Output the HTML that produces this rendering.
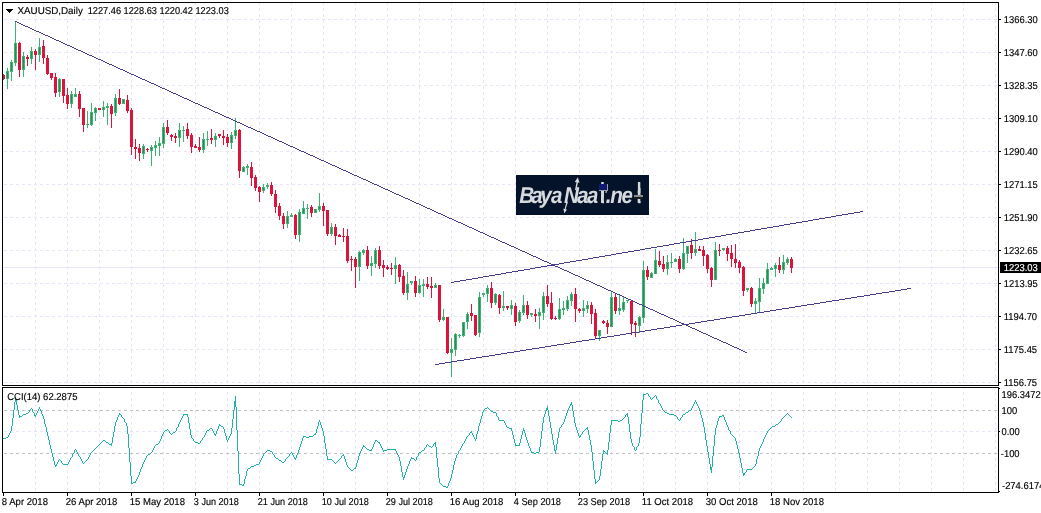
<!DOCTYPE html>
<html lang="en"><head><meta charset="utf-8"><title>XAUUSD Daily</title>
<style>html,body{margin:0;padding:0;background:#fff;overflow:hidden}svg{display:block}text{font-family:"Liberation Sans",sans-serif;font-size:10.0px;fill:#000;stroke:#000;stroke-width:0.15px;text-rendering:geometricPrecision}</style></head><body>
<svg width="1041" height="513" viewBox="0 0 1041 513">
<rect width="1041" height="513" fill="#fff"/>
<g stroke="#e6e6fa" stroke-width="1" stroke-dasharray="3 3" shape-rendering="crispEdges" fill="none">
<line x1="35.5" y1="2" x2="35.5" y2="492"/>
<line x1="67.5" y1="2" x2="67.5" y2="492"/>
<line x1="99.5" y1="2" x2="99.5" y2="492"/>
<line x1="131.5" y1="2" x2="131.5" y2="492"/>
<line x1="163.5" y1="2" x2="163.5" y2="492"/>
<line x1="195.5" y1="2" x2="195.5" y2="492"/>
<line x1="227.5" y1="2" x2="227.5" y2="492"/>
<line x1="259.5" y1="2" x2="259.5" y2="492"/>
<line x1="291.5" y1="2" x2="291.5" y2="492"/>
<line x1="323.5" y1="2" x2="323.5" y2="492"/>
<line x1="355.5" y1="2" x2="355.5" y2="492"/>
<line x1="387.5" y1="2" x2="387.5" y2="492"/>
<line x1="419.5" y1="2" x2="419.5" y2="492"/>
<line x1="451.5" y1="2" x2="451.5" y2="492"/>
<line x1="483.5" y1="2" x2="483.5" y2="492"/>
<line x1="515.5" y1="2" x2="515.5" y2="492"/>
<line x1="547.5" y1="2" x2="547.5" y2="492"/>
<line x1="579.5" y1="2" x2="579.5" y2="492"/>
<line x1="611.5" y1="2" x2="611.5" y2="492"/>
<line x1="643.5" y1="2" x2="643.5" y2="492"/>
<line x1="675.5" y1="2" x2="675.5" y2="492"/>
<line x1="707.5" y1="2" x2="707.5" y2="492"/>
<line x1="739.5" y1="2" x2="739.5" y2="492"/>
<line x1="771.5" y1="2" x2="771.5" y2="492"/>
<line x1="803.5" y1="2" x2="803.5" y2="492"/>
<line x1="835.5" y1="2" x2="835.5" y2="492"/>
<line x1="867.5" y1="2" x2="867.5" y2="492"/>
<line x1="899.5" y1="2" x2="899.5" y2="492"/>
<line x1="931.5" y1="2" x2="931.5" y2="492"/>
<line x1="963.5" y1="2" x2="963.5" y2="492"/>
<line x1="995.5" y1="2" x2="995.5" y2="492"/>
<line x1="4" y1="19.5" x2="998" y2="19.5"/>
<line x1="4" y1="52.5" x2="998" y2="52.5"/>
<line x1="4" y1="85.5" x2="998" y2="85.5"/>
<line x1="4" y1="118.5" x2="998" y2="118.5"/>
<line x1="4" y1="151.5" x2="998" y2="151.5"/>
<line x1="4" y1="184.5" x2="998" y2="184.5"/>
<line x1="4" y1="217.5" x2="998" y2="217.5"/>
<line x1="4" y1="250.5" x2="998" y2="250.5"/>
<line x1="4" y1="283.5" x2="998" y2="283.5"/>
<line x1="4" y1="316.5" x2="998" y2="316.5"/>
<line x1="4" y1="349.5" x2="998" y2="349.5"/>
<line x1="4" y1="382.5" x2="998" y2="382.5"/>
<line x1="4" y1="431.5" x2="998" y2="431.5"/>
</g>
<g shape-rendering="crispEdges">
<rect x="0" y="386" width="1041" height="1" fill="#fff"/>
<rect x="3" y="267" width="997" height="1" fill="#e6e6fa"/>
<g stroke="#c0c0c0" stroke-width="1" stroke-dasharray="3 3">
<line x1="4" y1="410.5" x2="998" y2="410.5"/><line x1="4" y1="453.5" x2="998" y2="453.5"/></g>
<path fill="#3cb371" d="M7 68h1v21h-1zM6 71h3v8h-3zM11 60h1v21h-1zM10 62h3v10h-3zM15 21h1v45h-1zM14 43h3v20h-3zM23 52h1v25h-1zM22 56h3v14h-3zM31 47h1v17h-1zM30 51h3v8h-3zM39 38h1v24h-1zM38 47h3v8h-3zM59 78h1v19h-1zM58 79h3v13h-3zM71 91h1v17h-1zM70 94h3v10h-3zM75 88h1v9h-1zM74 94h3v3h-3zM87 111h1v17h-1zM86 124h3v1h-3zM91 103h1v23h-1zM90 112h3v13h-3zM95 107h1v14h-1zM94 108h3v5h-3zM103 101h1v16h-1zM102 107h3v3h-3zM107 103h1v22h-1zM106 106h3v2h-3zM115 94h1v22h-1zM114 98h3v15h-3zM123 99h1v5h-1zM122 99h3v5h-3zM143 144h1v15h-1zM142 146h3v8h-3zM151 145h1v21h-1zM150 147h3v4h-3zM155 141h1v15h-1zM154 145h3v3h-3zM159 137h1v19h-1zM158 143h3v3h-3zM163 123h1v25h-1zM162 127h3v17h-3zM179 123h1v24h-1zM178 130h3v8h-3zM183 126h1v16h-1zM182 130h3v1h-3zM203 133h1v20h-1zM202 139h3v11h-3zM207 131h1v15h-1zM206 139h3v1h-3zM215 133h1v14h-1zM214 136h3v4h-3zM231 132h1v17h-1zM230 135h3v8h-3zM235 118h1v21h-1zM234 130h3v6h-3zM243 166h1v6h-1zM242 167h3v5h-3zM247 164h1v11h-1zM246 166h3v2h-3zM263 184h1v9h-1zM262 187h3v4h-3zM267 183h1v6h-1zM266 185h3v2h-3zM287 211h1v17h-1zM286 216h3v8h-3zM291 213h1v4h-1zM290 215h3v2h-3zM299 209h1v33h-1zM298 212h3v23h-3zM303 201h1v13h-1zM302 208h3v6h-3zM307 204h1v15h-1zM306 208h3v1h-3zM315 209h1v4h-1zM314 209h3v4h-3zM319 193h1v19h-1zM318 206h3v4h-3zM331 223h1v13h-1zM330 227h3v7h-3zM359 251h1v30h-1zM358 252h3v15h-3zM363 249h1v6h-1zM362 250h3v3h-3zM371 256h1v20h-1zM370 263h3v3h-3zM375 248h1v20h-1zM374 250h3v14h-3zM395 257h1v27h-1zM394 265h3v4h-3zM407 272h1v28h-1zM406 284h3v9h-3zM411 281h1v4h-1zM410 281h3v2h-3zM419 279h1v15h-1zM418 285h3v8h-3zM423 279h1v18h-1zM422 284h3v2h-3zM435 283h1v5h-1zM434 285h3v3h-3zM443 309h1v12h-1zM442 317h3v3h-3zM451 338h1v39h-1zM450 349h3v4h-3zM455 333h1v23h-1zM454 334h3v16h-3zM459 334h1v4h-1zM458 335h3v1h-3zM463 322h1v15h-1zM462 322h3v14h-3zM467 312h1v17h-1zM466 314h3v8h-3zM479 292h1v45h-1zM478 297h3v36h-3zM483 293h1v4h-1zM482 293h3v2h-3zM487 285h1v17h-1zM486 288h3v6h-3zM495 293h1v12h-1zM494 294h3v9h-3zM503 291h1v20h-1zM502 306h3v2h-3zM511 300h1v15h-1zM510 305h3v4h-3zM519 310h1v13h-1zM518 312h3v9h-3zM523 295h1v20h-1zM522 305h3v8h-3zM531 313h1v4h-1zM530 313h3v2h-3zM539 308h1v21h-1zM538 312h3v4h-3zM543 292h1v28h-1zM542 296h3v17h-3zM559 298h1v22h-1zM558 309h3v10h-3zM563 301h1v14h-1zM562 308h3v2h-3zM567 296h1v15h-1zM566 300h3v9h-3zM571 292h1v14h-1zM570 294h3v7h-3zM583 300h1v17h-1zM582 308h3v3h-3zM587 301h1v12h-1zM586 305h3v4h-3zM599 330h1v11h-1zM598 330h3v6h-3zM611 292h1v35h-1zM610 297h3v30h-3zM619 295h1v20h-1zM618 308h3v3h-3zM623 296h1v16h-1zM622 302h3v8h-3zM627 300h1v3h-1zM626 300h3v1h-3zM639 316h1v17h-1zM638 317h3v9h-3zM643 261h1v62h-1zM642 270h3v48h-3zM651 272h1v6h-1zM650 273h3v5h-3zM655 249h1v25h-1zM654 260h3v14h-3zM667 255h1v20h-1zM666 262h3v7h-3zM671 253h1v15h-1zM670 262h3v1h-3zM675 258h1v4h-1zM674 259h3v3h-3zM683 238h1v32h-1zM682 253h3v16h-3zM687 246h1v17h-1zM686 246h3v8h-3zM695 232h1v24h-1zM694 249h3v4h-3zM715 242h1v38h-1zM714 250h3v30h-3zM723 248h1v3h-1zM722 248h3v2h-3zM747 288h1v4h-1zM746 288h3v2h-3zM755 298h1v15h-1zM754 301h3v3h-3zM759 278h1v34h-1zM758 288h3v14h-3zM763 278h1v16h-1zM762 283h3v6h-3zM767 263h1v21h-1zM766 269h3v15h-3zM771 267h1v3h-1zM770 268h3v2h-3zM775 263h1v14h-1zM774 265h3v4h-3zM783 255h1v19h-1zM782 262h3v8h-3zM787 257h1v8h-1zM786 259h3v4h-3z"/>
<path fill="#2e8b57" d="M7 72h1v6h-1zM11 63h1v8h-1zM15 44h1v18h-1zM23 57h1v12h-1zM31 52h1v6h-1zM39 48h1v6h-1zM59 80h1v11h-1zM71 95h1v8h-1zM75 95h1v1h-1zM91 113h1v11h-1zM95 109h1v3h-1zM103 108h1v1h-1zM115 99h1v13h-1zM123 100h1v3h-1zM143 147h1v6h-1zM151 148h1v2h-1zM155 146h1v1h-1zM159 144h1v1h-1zM163 128h1v15h-1zM179 131h1v6h-1zM203 140h1v9h-1zM215 137h1v2h-1zM231 136h1v6h-1zM235 131h1v4h-1zM243 168h1v3h-1zM263 188h1v2h-1zM287 217h1v6h-1zM299 213h1v21h-1zM303 209h1v4h-1zM315 210h1v2h-1zM319 207h1v2h-1zM331 228h1v5h-1zM359 253h1v13h-1zM363 251h1v1h-1zM371 264h1v1h-1zM375 251h1v12h-1zM395 266h1v2h-1zM407 285h1v7h-1zM419 286h1v6h-1zM435 286h1v1h-1zM443 318h1v1h-1zM451 350h1v2h-1zM455 335h1v14h-1zM463 323h1v12h-1zM467 315h1v6h-1zM479 298h1v34h-1zM487 289h1v4h-1zM495 295h1v7h-1zM511 306h1v2h-1zM519 313h1v7h-1zM523 306h1v6h-1zM539 313h1v2h-1zM543 297h1v15h-1zM559 310h1v8h-1zM567 301h1v7h-1zM571 295h1v5h-1zM583 309h1v1h-1zM587 306h1v2h-1zM599 331h1v4h-1zM611 298h1v28h-1zM619 309h1v1h-1zM623 303h1v6h-1zM639 318h1v7h-1zM643 271h1v46h-1zM651 274h1v3h-1zM655 261h1v12h-1zM667 263h1v5h-1zM675 260h1v1h-1zM683 254h1v14h-1zM687 247h1v6h-1zM695 250h1v2h-1zM715 251h1v28h-1zM755 302h1v1h-1zM759 289h1v12h-1zM763 284h1v4h-1zM767 270h1v13h-1zM775 266h1v2h-1zM783 263h1v6h-1zM787 260h1v2h-1z"/>
<path fill="#dc143c" d="M3 74h1v6h-1zM2 75h3v4h-3zM19 42h1v35h-1zM18 43h3v27h-3zM27 55h1v11h-1zM26 57h3v2h-3zM35 49h1v21h-1zM34 51h3v4h-3zM43 40h1v24h-1zM42 46h3v12h-3zM47 55h1v20h-1zM46 58h3v16h-3zM51 73h1v7h-1zM50 73h3v5h-3zM55 73h1v24h-1zM54 77h3v16h-3zM63 79h1v24h-1zM62 79h3v17h-3zM67 88h1v21h-1zM66 95h3v9h-3zM79 91h1v26h-1zM78 94h3v15h-3zM83 108h1v24h-1zM82 108h3v17h-3zM99 108h1v2h-1zM98 108h3v2h-3zM111 104h1v24h-1zM110 106h3v8h-3zM119 89h1v16h-1zM118 98h3v6h-3zM127 95h1v18h-1zM126 100h3v11h-3zM131 108h1v47h-1zM130 110h3v37h-3zM135 139h1v20h-1zM134 147h3v2h-3zM139 144h1v17h-1zM138 148h3v5h-3zM147 148h1v4h-1zM146 149h3v1h-3zM167 120h1v15h-1zM166 127h3v6h-3zM171 134h1v7h-1zM170 135h3v2h-3zM175 133h1v10h-1zM174 136h3v2h-3zM187 123h1v16h-1zM186 129h3v7h-3zM191 133h1v20h-1zM190 135h3v12h-3zM195 144h1v4h-1zM194 146h3v2h-3zM199 137h1v15h-1zM198 147h3v3h-3zM211 129h1v15h-1zM210 138h3v2h-3zM219 134h1v4h-1zM218 134h3v2h-3zM223 130h1v15h-1zM222 136h3v2h-3zM227 134h1v13h-1zM226 137h3v6h-3zM239 129h1v49h-1zM238 130h3v41h-3zM251 162h1v24h-1zM250 167h3v11h-3zM255 175h1v16h-1zM254 177h3v11h-3zM259 186h1v16h-1zM258 187h3v5h-3zM271 182h1v14h-1zM270 185h3v9h-3zM275 190h1v23h-1zM274 194h3v13h-3zM279 203h1v17h-1zM278 206h3v10h-3zM283 213h1v16h-1zM282 216h3v8h-3zM295 214h1v25h-1zM294 215h3v20h-3zM311 205h1v12h-1zM310 207h3v6h-3zM323 203h1v23h-1zM322 206h3v5h-3zM327 210h1v26h-1zM326 210h3v24h-3zM335 224h1v21h-1zM334 227h3v9h-3zM339 234h1v3h-1zM338 235h3v2h-3zM343 228h1v14h-1zM342 236h3v1h-3zM347 229h1v34h-1zM346 236h3v25h-3zM351 256h1v15h-1zM350 259h3v1h-3zM355 257h1v31h-1zM354 259h3v8h-3zM367 246h1v23h-1zM366 250h3v16h-3zM379 246h1v23h-1zM378 250h3v16h-3zM383 260h1v17h-1zM382 265h3v3h-3zM387 265h1v5h-1zM386 267h3v2h-3zM391 263h1v12h-1zM390 268h3v1h-3zM399 264h1v18h-1zM398 265h3v12h-3zM403 270h1v25h-1zM402 276h3v17h-3zM415 276h1v21h-1zM414 281h3v12h-3zM427 277h1v12h-1zM426 284h3v3h-3zM431 277h1v21h-1zM430 286h3v2h-3zM439 285h1v37h-1zM438 285h3v35h-3zM447 317h1v37h-1zM446 317h3v36h-3zM471 304h1v17h-1zM470 313h3v3h-3zM475 315h1v21h-1zM474 315h3v20h-3zM491 282h1v26h-1zM490 288h3v15h-3zM499 294h1v20h-1zM498 295h3v13h-3zM507 306h1v4h-1zM506 306h3v2h-3zM515 303h1v23h-1zM514 306h3v16h-3zM527 301h1v18h-1zM526 305h3v10h-3zM535 309h1v13h-1zM534 314h3v2h-3zM547 285h1v22h-1zM546 296h3v8h-3zM551 292h1v28h-1zM550 303h3v16h-3zM555 316h1v4h-1zM554 318h3v1h-3zM575 288h1v34h-1zM574 294h3v15h-3zM579 308h1v5h-1zM578 309h3v2h-3zM591 302h1v22h-1zM590 305h3v9h-3zM595 309h1v29h-1zM594 313h3v23h-3zM603 320h1v4h-1zM602 321h3v2h-3zM607 320h1v14h-1zM606 323h3v4h-3zM615 293h1v21h-1zM614 297h3v14h-3zM631 301h1v34h-1zM630 301h3v23h-3zM635 321h1v16h-1zM634 323h3v2h-3zM647 266h1v14h-1zM646 270h3v7h-3zM659 251h1v16h-1zM658 261h3v4h-3zM663 256h1v16h-1zM662 264h3v5h-3zM679 256h1v17h-1zM678 259h3v10h-3zM691 239h1v20h-1zM690 245h3v8h-3zM699 246h1v5h-1zM698 249h3v2h-3zM703 246h1v20h-1zM702 250h3v6h-3zM707 254h1v19h-1zM706 255h3v14h-3zM711 267h1v20h-1zM710 268h3v12h-3zM719 244h1v12h-1zM718 250h3v1h-3zM727 246h1v15h-1zM726 248h3v6h-3zM731 245h1v22h-1zM730 253h3v6h-3zM735 244h1v24h-1zM734 259h3v4h-3zM739 260h1v13h-1zM738 262h3v6h-3zM743 266h1v30h-1zM742 267h3v24h-3zM751 287h1v20h-1zM750 288h3v16h-3zM779 257h1v16h-1zM778 265h3v5h-3zM791 257h1v16h-1zM790 259h3v9h-3z"/>
<path fill="#dc143c" d="M3 76h1v2h-1zM19 44h1v25h-1zM35 52h1v2h-1zM43 47h1v10h-1zM47 59h1v14h-1zM51 74h1v3h-1zM55 78h1v14h-1zM63 80h1v15h-1zM67 96h1v7h-1zM79 95h1v13h-1zM83 109h1v15h-1zM111 107h1v6h-1zM119 99h1v4h-1zM127 101h1v9h-1zM131 111h1v35h-1zM139 149h1v3h-1zM167 128h1v4h-1zM187 130h1v5h-1zM191 136h1v10h-1zM199 148h1v1h-1zM227 138h1v4h-1zM239 131h1v39h-1zM251 168h1v9h-1zM255 178h1v9h-1zM259 188h1v3h-1zM271 186h1v7h-1zM275 195h1v11h-1zM279 207h1v8h-1zM283 217h1v6h-1zM295 216h1v18h-1zM311 208h1v4h-1zM323 207h1v3h-1zM327 211h1v22h-1zM335 228h1v7h-1zM347 237h1v23h-1zM355 260h1v6h-1zM367 251h1v14h-1zM379 251h1v14h-1zM383 266h1v1h-1zM399 266h1v10h-1zM403 277h1v15h-1zM415 282h1v10h-1zM427 285h1v1h-1zM439 286h1v33h-1zM447 318h1v34h-1zM471 314h1v1h-1zM475 316h1v18h-1zM491 289h1v13h-1zM499 296h1v11h-1zM515 307h1v14h-1zM527 306h1v8h-1zM547 297h1v6h-1zM551 304h1v14h-1zM575 295h1v13h-1zM591 306h1v7h-1zM595 314h1v21h-1zM607 324h1v2h-1zM615 298h1v12h-1zM631 302h1v21h-1zM647 271h1v5h-1zM659 262h1v2h-1zM663 265h1v3h-1zM679 260h1v8h-1zM691 246h1v6h-1zM703 251h1v4h-1zM707 256h1v12h-1zM711 269h1v10h-1zM727 249h1v4h-1zM731 254h1v4h-1zM735 260h1v2h-1zM739 263h1v4h-1zM743 268h1v22h-1zM751 289h1v14h-1zM779 266h1v3h-1zM791 260h1v7h-1z"/>
<path fill="#483d8b" d="M15 21h2v1h-2zM17 22h2v1h-2zM19 23h2v1h-2zM21 24h2v1h-2zM23 25h2v1h-2zM25 26h3v1h-3zM28 27h2v1h-2zM30 28h2v1h-2zM32 29h2v1h-2zM34 30h2v1h-2zM36 31h3v1h-3zM39 32h2v1h-2zM41 33h2v1h-2zM43 34h2v1h-2zM45 35h3v1h-3zM48 36h2v1h-2zM50 37h2v1h-2zM52 38h2v1h-2zM54 39h2v1h-2zM56 40h3v1h-3zM59 41h2v1h-2zM61 42h2v1h-2zM63 43h2v1h-2zM65 44h2v1h-2zM67 45h3v1h-3zM70 46h2v1h-2zM72 47h2v1h-2zM74 48h2v1h-2zM76 49h2v1h-2zM78 50h3v1h-3zM81 51h2v1h-2zM83 52h2v1h-2zM85 53h2v1h-2zM87 54h2v1h-2zM89 55h3v1h-3zM92 56h2v1h-2zM94 57h2v1h-2zM96 58h2v1h-2zM98 59h3v1h-3zM101 60h2v1h-2zM103 61h2v1h-2zM105 62h2v1h-2zM107 63h2v1h-2zM109 64h3v1h-3zM112 65h2v1h-2zM114 66h2v1h-2zM116 67h2v1h-2zM118 68h2v1h-2zM120 69h3v1h-3zM123 70h2v1h-2zM125 71h2v1h-2zM127 72h2v1h-2zM129 73h2v1h-2zM131 74h3v1h-3zM134 75h2v1h-2zM136 76h2v1h-2zM138 77h2v1h-2zM140 78h2v1h-2zM142 79h3v1h-3zM145 80h2v1h-2zM147 81h2v1h-2zM149 82h2v1h-2zM151 83h3v1h-3zM154 84h2v1h-2zM156 85h2v1h-2zM158 86h2v1h-2zM160 87h2v1h-2zM162 88h3v1h-3zM165 89h2v1h-2zM167 90h2v1h-2zM169 91h2v1h-2zM171 92h2v1h-2zM173 93h3v1h-3zM176 94h2v1h-2zM178 95h2v1h-2zM180 96h2v1h-2zM182 97h2v1h-2zM184 98h3v1h-3zM187 99h2v1h-2zM189 100h2v1h-2zM191 101h2v1h-2zM193 102h2v1h-2zM195 103h3v1h-3zM198 104h2v1h-2zM200 105h2v1h-2zM202 106h2v1h-2zM204 107h3v1h-3zM207 108h2v1h-2zM209 109h2v1h-2zM211 110h2v1h-2zM213 111h2v1h-2zM215 112h3v1h-3zM218 113h2v1h-2zM220 114h2v1h-2zM222 115h2v1h-2zM224 116h2v1h-2zM226 117h3v1h-3zM229 118h2v1h-2zM231 119h2v1h-2zM233 120h2v1h-2zM235 121h2v1h-2zM237 122h3v1h-3zM240 123h2v1h-2zM242 124h2v1h-2zM244 125h2v1h-2zM246 126h2v1h-2zM248 127h3v1h-3zM251 128h2v1h-2zM253 129h2v1h-2zM255 130h2v1h-2zM257 131h3v1h-3zM260 132h2v1h-2zM262 133h2v1h-2zM264 134h2v1h-2zM266 135h2v1h-2zM268 136h3v1h-3zM271 137h2v1h-2zM273 138h2v1h-2zM275 139h2v1h-2zM277 140h2v1h-2zM279 141h3v1h-3zM282 142h2v1h-2zM284 143h2v1h-2zM286 144h2v1h-2zM288 145h2v1h-2zM290 146h3v1h-3zM293 147h2v1h-2zM295 148h2v1h-2zM297 149h2v1h-2zM299 150h2v1h-2zM301 151h3v1h-3zM304 152h2v1h-2zM306 153h2v1h-2zM308 154h2v1h-2zM310 155h3v1h-3zM313 156h2v1h-2zM315 157h2v1h-2zM317 158h2v1h-2zM319 159h2v1h-2zM321 160h3v1h-3zM324 161h2v1h-2zM326 162h2v1h-2zM328 163h2v1h-2zM330 164h2v1h-2zM332 165h3v1h-3zM335 166h2v1h-2zM337 167h2v1h-2zM339 168h2v1h-2zM341 169h2v1h-2zM343 170h3v1h-3zM346 171h2v1h-2zM348 172h2v1h-2zM350 173h2v1h-2zM352 174h2v1h-2zM354 175h3v1h-3zM357 176h2v1h-2zM359 177h2v1h-2zM361 178h2v1h-2zM363 179h3v1h-3zM366 180h2v1h-2zM368 181h2v1h-2zM370 182h2v1h-2zM372 183h2v1h-2zM374 184h3v1h-3zM377 185h2v1h-2zM379 186h2v1h-2zM381 187h2v1h-2zM383 188h2v1h-2zM385 189h3v1h-3zM388 190h2v1h-2zM390 191h2v1h-2zM392 192h2v1h-2zM394 193h2v1h-2zM396 194h3v1h-3zM399 195h2v1h-2zM401 196h2v1h-2zM403 197h2v1h-2zM405 198h3v1h-3zM408 199h2v1h-2zM410 200h2v1h-2zM412 201h2v1h-2zM414 202h2v1h-2zM416 203h3v1h-3zM419 204h2v1h-2zM421 205h2v1h-2zM423 206h2v1h-2zM425 207h2v1h-2zM427 208h3v1h-3zM430 209h2v1h-2zM432 210h2v1h-2zM434 211h2v1h-2zM860 211h3v1h-3zM436 212h2v1h-2zM854 212h6v1h-6zM438 213h3v1h-3zM848 213h6v1h-6zM441 214h2v1h-2zM842 214h6v1h-6zM443 215h2v1h-2zM836 215h6v1h-6zM445 216h2v1h-2zM831 216h5v1h-5zM447 217h2v1h-2zM825 217h6v1h-6zM449 218h3v1h-3zM819 218h6v1h-6zM452 219h2v1h-2zM813 219h6v1h-6zM454 220h2v1h-2zM808 220h5v1h-5zM456 221h2v1h-2zM802 221h6v1h-6zM458 222h3v1h-3zM796 222h6v1h-6zM461 223h2v1h-2zM790 223h6v1h-6zM463 224h2v1h-2zM784 224h6v1h-6zM465 225h2v1h-2zM779 225h5v1h-5zM467 226h2v1h-2zM773 226h6v1h-6zM469 227h3v1h-3zM767 227h6v1h-6zM472 228h2v1h-2zM761 228h6v1h-6zM474 229h2v1h-2zM755 229h6v1h-6zM476 230h2v1h-2zM750 230h5v1h-5zM478 231h2v1h-2zM744 231h6v1h-6zM480 232h3v1h-3zM738 232h6v1h-6zM483 233h2v1h-2zM732 233h6v1h-6zM485 234h2v1h-2zM726 234h6v1h-6zM487 235h2v1h-2zM721 235h5v1h-5zM489 236h2v1h-2zM715 236h6v1h-6zM491 237h3v1h-3zM709 237h6v1h-6zM494 238h2v1h-2zM703 238h6v1h-6zM496 239h2v1h-2zM698 239h5v1h-5zM498 240h2v1h-2zM692 240h6v1h-6zM500 241h2v1h-2zM686 241h6v1h-6zM502 242h3v1h-3zM680 242h6v1h-6zM505 243h2v1h-2zM674 243h6v1h-6zM507 244h2v1h-2zM669 244h5v1h-5zM509 245h2v1h-2zM663 245h6v1h-6zM511 246h3v1h-3zM657 246h6v1h-6zM514 247h2v1h-2zM651 247h6v1h-6zM516 248h2v1h-2zM645 248h6v1h-6zM518 249h2v1h-2zM640 249h5v1h-5zM520 250h2v1h-2zM634 250h6v1h-6zM522 251h3v1h-3zM628 251h6v1h-6zM525 252h2v1h-2zM622 252h6v1h-6zM527 253h2v1h-2zM616 253h6v1h-6zM529 254h2v1h-2zM611 254h5v1h-5zM531 255h2v1h-2zM605 255h6v1h-6zM533 256h3v1h-3zM599 256h6v1h-6zM536 257h2v1h-2zM593 257h6v1h-6zM538 258h2v1h-2zM588 258h5v1h-5zM540 259h2v1h-2zM582 259h6v1h-6zM542 260h2v1h-2zM576 260h6v1h-6zM544 261h3v1h-3zM570 261h6v1h-6zM547 262h2v1h-2zM564 262h6v1h-6zM549 263h2v1h-2zM559 263h5v1h-5zM551 264h8v1h-8zM547 265h8v1h-8zM541 266h6v1h-6zM555 266h3v1h-3zM535 267h6v1h-6zM558 267h2v1h-2zM530 268h5v1h-5zM560 268h2v1h-2zM524 269h6v1h-6zM562 269h2v1h-2zM518 270h6v1h-6zM564 270h3v1h-3zM512 271h6v1h-6zM567 271h2v1h-2zM506 272h6v1h-6zM569 272h2v1h-2zM501 273h5v1h-5zM571 273h2v1h-2zM495 274h6v1h-6zM573 274h2v1h-2zM489 275h6v1h-6zM575 275h3v1h-3zM483 276h6v1h-6zM578 276h2v1h-2zM478 277h5v1h-5zM580 277h2v1h-2zM472 278h6v1h-6zM582 278h2v1h-2zM466 279h6v1h-6zM584 279h2v1h-2zM460 280h6v1h-6zM586 280h3v1h-3zM454 281h6v1h-6zM589 281h2v1h-2zM451 282h3v1h-3zM591 282h2v1h-2zM593 283h2v1h-2zM595 284h2v1h-2zM597 285h3v1h-3zM600 286h2v1h-2zM602 287h2v1h-2zM604 288h2v1h-2zM907 288h4v1h-4zM606 289h2v1h-2zM901 289h6v1h-6zM608 290h3v1h-3zM895 290h6v1h-6zM611 291h2v1h-2zM889 291h6v1h-6zM613 292h2v1h-2zM882 292h7v1h-7zM615 293h2v1h-2zM876 293h6v1h-6zM617 294h3v1h-3zM870 294h6v1h-6zM620 295h2v1h-2zM864 295h6v1h-6zM622 296h2v1h-2zM857 296h7v1h-7zM624 297h2v1h-2zM851 297h6v1h-6zM626 298h2v1h-2zM845 298h6v1h-6zM628 299h3v1h-3zM839 299h6v1h-6zM631 300h2v1h-2zM832 300h7v1h-7zM633 301h2v1h-2zM826 301h6v1h-6zM635 302h2v1h-2zM820 302h6v1h-6zM637 303h2v1h-2zM814 303h6v1h-6zM639 304h3v1h-3zM807 304h7v1h-7zM642 305h2v1h-2zM801 305h6v1h-6zM644 306h2v1h-2zM795 306h6v1h-6zM646 307h2v1h-2zM789 307h6v1h-6zM648 308h2v1h-2zM782 308h7v1h-7zM650 309h3v1h-3zM776 309h6v1h-6zM653 310h2v1h-2zM770 310h6v1h-6zM655 311h2v1h-2zM764 311h6v1h-6zM657 312h2v1h-2zM757 312h7v1h-7zM659 313h2v1h-2zM751 313h6v1h-6zM661 314h3v1h-3zM745 314h6v1h-6zM664 315h2v1h-2zM739 315h6v1h-6zM666 316h2v1h-2zM732 316h7v1h-7zM668 317h2v1h-2zM726 317h6v1h-6zM670 318h3v1h-3zM720 318h6v1h-6zM673 319h2v1h-2zM714 319h6v1h-6zM675 320h2v1h-2zM707 320h7v1h-7zM677 321h2v1h-2zM701 321h6v1h-6zM679 322h2v1h-2zM695 322h6v1h-6zM681 323h3v1h-3zM689 323h6v1h-6zM682 324h7v1h-7zM676 325h6v1h-6zM686 325h2v1h-2zM670 326h6v1h-6zM688 326h2v1h-2zM664 327h6v1h-6zM690 327h2v1h-2zM657 328h7v1h-7zM692 328h3v1h-3zM651 329h6v1h-6zM695 329h2v1h-2zM645 330h6v1h-6zM697 330h2v1h-2zM639 331h6v1h-6zM699 331h2v1h-2zM632 332h7v1h-7zM701 332h2v1h-2zM626 333h6v1h-6zM703 333h3v1h-3zM620 334h6v1h-6zM706 334h2v1h-2zM614 335h6v1h-6zM708 335h2v1h-2zM607 336h7v1h-7zM710 336h2v1h-2zM601 337h6v1h-6zM712 337h2v1h-2zM595 338h6v1h-6zM714 338h3v1h-3zM589 339h6v1h-6zM717 339h2v1h-2zM582 340h7v1h-7zM719 340h2v1h-2zM576 341h6v1h-6zM721 341h2v1h-2zM570 342h6v1h-6zM723 342h3v1h-3zM564 343h6v1h-6zM726 343h2v1h-2zM557 344h7v1h-7zM728 344h2v1h-2zM551 345h6v1h-6zM730 345h2v1h-2zM545 346h6v1h-6zM732 346h2v1h-2zM539 347h6v1h-6zM734 347h3v1h-3zM532 348h7v1h-7zM737 348h2v1h-2zM526 349h6v1h-6zM739 349h2v1h-2zM520 350h6v1h-6zM741 350h2v1h-2zM514 351h6v1h-6zM743 351h2v1h-2zM507 352h7v1h-7zM745 352h2v1h-2zM501 353h6v1h-6zM495 354h6v1h-6zM489 355h6v1h-6zM482 356h7v1h-7zM476 357h6v1h-6zM470 358h6v1h-6zM464 359h6v1h-6zM457 360h7v1h-7zM451 361h6v1h-6zM445 362h6v1h-6zM439 363h6v1h-6zM435 364h4v1h-4z"/>
<path fill="#20b2aa" d="M646 393h2v1h-2zM643 394h3v1h-3zM648 394h1v2h-1zM643 395h1v5h-1zM655 395h1v1h-1zM235 396h1v11h-1zM649 396h1v1h-1zM654 396h1v1h-1zM656 396h1v3h-1zM15 397h1v5h-1zM650 397h1v2h-1zM653 397h1v1h-1zM652 398h1v1h-1zM651 399h1v1h-1zM657 399h1v1h-1zM16 400h1v5h-1zM642 400h1v13h-1zM658 400h1v3h-1zM695 400h1v2h-1zM234 401h1v9h-1zM14 402h1v8h-1zM571 402h1v3h-1zM694 402h1v2h-1zM696 402h1v2h-1zM659 403h1v1h-1zM570 404h1v2h-1zM660 404h1v2h-1zM693 404h1v2h-1zM697 404h1v2h-1zM17 405h1v5h-1zM572 405h1v6h-1zM547 406h1v4h-1zM569 406h1v2h-1zM661 406h1v2h-1zM692 406h1v2h-1zM698 406h1v2h-1zM39 407h1v2h-1zM236 407h1v23h-1zM487 407h1v1h-1zM31 408h1v1h-1zM485 408h2v1h-2zM488 408h1v1h-1zM546 408h1v3h-1zM568 408h1v2h-1zM662 408h1v2h-1zM691 408h1v2h-1zM699 408h1v3h-1zM30 409h1v1h-1zM32 409h1v3h-1zM38 409h1v2h-1zM40 409h1v2h-1zM484 409h1v1h-1zM489 409h1v1h-1zM13 410h1v8h-1zM18 410h1v5h-1zM29 410h1v2h-1zM233 410h1v9h-1zM483 410h1v2h-1zM490 410h1v1h-1zM548 410h1v6h-1zM567 410h1v3h-1zM663 410h1v1h-1zM689 410h2v1h-2zM37 411h1v2h-1zM41 411h1v3h-1zM491 411h2v1h-2zM545 411h1v3h-1zM573 411h1v6h-1zM664 411h1v1h-1zM688 411h1v1h-1zM700 411h1v4h-1zM28 412h1v1h-1zM33 412h1v1h-1zM482 412h1v4h-1zM493 412h3v1h-3zM665 412h2v1h-2zM686 412h2v1h-2zM26 413h2v1h-2zM34 413h1v3h-1zM36 413h1v2h-1zM119 413h1v2h-1zM496 413h1v3h-1zM566 413h1v3h-1zM627 413h1v4h-1zM641 413h1v11h-1zM667 413h2v1h-2zM685 413h1v1h-1zM787 413h1v1h-1zM23 414h3v1h-3zM42 414h1v2h-1zM120 414h1v1h-1zM183 414h5v1h-5zM544 414h1v3h-1zM626 414h1v1h-1zM669 414h5v1h-5zM683 414h2v1h-2zM786 414h1v1h-1zM788 414h1v1h-1zM19 415h1v3h-1zM22 415h1v1h-1zM35 415h1v2h-1zM118 415h1v2h-1zM121 415h1v2h-1zM183 415h1v1h-1zM187 415h1v2h-1zM625 415h1v2h-1zM674 415h2v1h-2zM682 415h1v2h-1zM701 415h1v3h-1zM722 415h2v1h-2zM785 415h1v1h-1zM789 415h1v1h-1zM20 416h2v1h-2zM43 416h1v3h-1zM182 416h1v2h-1zM481 416h1v3h-1zM497 416h1v1h-1zM549 416h1v6h-1zM565 416h1v3h-1zM676 416h1v1h-1zM719 416h3v1h-3zM723 416h1v1h-1zM784 416h1v1h-1zM790 416h1v1h-1zM117 417h1v3h-1zM122 417h1v1h-1zM188 417h1v6h-1zM498 417h1v3h-1zM543 417h1v6h-1zM574 417h1v6h-1zM624 417h1v1h-1zM628 417h1v7h-1zM677 417h1v2h-1zM681 417h1v1h-1zM719 417h1v1h-1zM724 417h1v3h-1zM783 417h1v1h-1zM791 417h1v1h-1zM12 418h1v8h-1zM123 418h1v1h-1zM181 418h1v2h-1zM623 418h1v1h-1zM680 418h1v2h-1zM702 418h1v4h-1zM718 418h1v3h-1zM782 418h1v1h-1zM44 419h1v5h-1zM124 419h1v3h-1zM232 419h1v9h-1zM480 419h1v4h-1zM564 419h1v3h-1zM622 419h1v1h-1zM678 419h1v1h-1zM781 419h1v2h-1zM116 420h1v2h-1zM180 420h1v2h-1zM319 420h1v2h-1zM499 420h5v1h-5zM611 420h7v1h-7zM620 420h2v1h-2zM679 420h1v1h-1zM725 420h1v2h-1zM504 421h1v2h-1zM611 421h1v4h-1zM618 421h2v1h-2zM717 421h1v4h-1zM780 421h1v1h-1zM115 422h1v4h-1zM125 422h1v1h-1zM179 422h1v2h-1zM318 422h1v4h-1zM320 422h1v3h-1zM550 422h1v6h-1zM563 422h1v2h-1zM703 422h1v5h-1zM726 422h1v3h-1zM779 422h1v1h-1zM126 423h1v3h-1zM189 423h1v6h-1zM479 423h1v3h-1zM505 423h1v2h-1zM542 423h1v8h-1zM575 423h1v4h-1zM778 423h1v1h-1zM45 424h1v3h-1zM178 424h1v3h-1zM219 424h1v2h-1zM562 424h1v1h-1zM629 424h1v8h-1zM640 424h1v13h-1zM776 424h2v1h-2zM220 425h1v1h-1zM321 425h1v3h-1zM506 425h1v2h-1zM561 425h1v2h-1zM610 425h1v8h-1zM716 425h1v3h-1zM727 425h1v2h-1zM775 425h1v1h-1zM11 426h1v5h-1zM114 426h1v6h-1zM127 426h1v8h-1zM218 426h1v3h-1zM221 426h2v1h-2zM317 426h1v3h-1zM478 426h1v5h-1zM772 426h3v1h-3zM46 427h1v5h-1zM177 427h1v1h-1zM223 427h1v2h-1zM507 427h2v1h-2zM560 427h1v1h-1zM576 427h1v3h-1zM587 427h1v3h-1zM704 427h1v6h-1zM728 427h1v3h-1zM771 427h1v1h-1zM176 428h1v3h-1zM210 428h2v1h-2zM231 428h1v6h-1zM322 428h1v3h-1zM509 428h3v1h-3zM523 428h1v3h-1zM551 428h1v6h-1zM559 428h1v4h-1zM586 428h1v1h-1zM715 428h1v7h-1zM770 428h1v1h-1zM167 429h1v1h-1zM190 429h1v6h-1zM209 429h1v1h-1zM212 429h1v2h-1zM217 429h1v2h-1zM224 429h1v4h-1zM316 429h1v4h-1zM511 429h1v2h-1zM585 429h1v1h-1zM769 429h1v1h-1zM165 430h2v1h-2zM168 430h1v1h-1zM207 430h2v1h-2zM237 430h1v21h-1zM524 430h1v3h-1zM577 430h1v3h-1zM584 430h1v1h-1zM588 430h1v5h-1zM729 430h1v1h-1zM768 430h1v1h-1zM10 431h1v2h-1zM164 431h1v1h-1zM169 431h1v2h-1zM175 431h1v1h-1zM206 431h1v2h-1zM213 431h1v2h-1zM216 431h1v3h-1zM323 431h1v5h-1zM471 431h1v2h-1zM477 431h1v3h-1zM512 431h1v4h-1zM522 431h1v4h-1zM541 431h1v8h-1zM583 431h1v1h-1zM730 431h1v3h-1zM767 431h1v2h-1zM47 432h1v4h-1zM113 432h1v5h-1zM163 432h1v2h-1zM173 432h2v1h-2zM470 432h1v1h-1zM558 432h1v6h-1zM582 432h1v2h-1zM630 432h1v7h-1zM9 433h1v2h-1zM170 433h1v1h-1zM172 433h1v1h-1zM205 433h1v2h-1zM214 433h1v2h-1zM225 433h1v3h-1zM315 433h1v2h-1zM469 433h1v2h-1zM472 433h1v2h-1zM525 433h1v4h-1zM578 433h1v3h-1zM609 433h1v9h-1zM705 433h1v7h-1zM766 433h1v2h-1zM128 434h1v14h-1zM162 434h1v2h-1zM171 434h1v1h-1zM215 434h1v2h-1zM230 434h1v2h-1zM314 434h1v1h-1zM476 434h1v5h-1zM552 434h1v6h-1zM581 434h1v1h-1zM731 434h1v1h-1zM8 435h1v2h-1zM191 435h1v3h-1zM204 435h1v2h-1zM313 435h1v1h-1zM468 435h1v1h-1zM473 435h1v2h-1zM513 435h1v4h-1zM521 435h1v4h-1zM580 435h1v2h-1zM589 435h1v5h-1zM714 435h1v11h-1zM732 435h1v1h-1zM765 435h1v2h-1zM48 436h1v4h-1zM161 436h1v3h-1zM226 436h1v4h-1zM229 436h1v2h-1zM303 436h3v1h-3zM309 436h4v1h-4zM324 436h1v7h-1zM467 436h1v1h-1zM579 436h1v2h-1zM733 436h1v1h-1zM6 437h2v1h-2zM112 437h1v6h-1zM203 437h1v1h-1zM303 437h1v1h-1zM306 437h3v1h-3zM466 437h1v2h-1zM474 437h1v2h-1zM526 437h1v3h-1zM639 437h1v6h-1zM734 437h1v1h-1zM764 437h1v2h-1zM3 438h3v1h-3zM192 438h1v1h-1zM202 438h1v2h-1zM228 438h1v2h-1zM302 438h1v3h-1zM557 438h1v6h-1zM735 438h1v3h-1zM160 439h1v2h-1zM193 439h1v2h-1zM465 439h1v2h-1zM475 439h1v2h-1zM514 439h1v4h-1zM520 439h1v4h-1zM540 439h1v8h-1zM631 439h1v4h-1zM763 439h1v3h-1zM49 440h1v5h-1zM103 440h2v1h-2zM201 440h1v1h-1zM227 440h1v2h-1zM375 440h2v1h-2zM527 440h1v3h-1zM553 440h1v5h-1zM590 440h1v5h-1zM706 440h1v6h-1zM102 441h1v1h-1zM105 441h1v1h-1zM159 441h1v2h-1zM194 441h1v1h-1zM200 441h1v2h-1zM301 441h1v3h-1zM375 441h1v1h-1zM377 441h1v1h-1zM464 441h1v2h-1zM736 441h1v4h-1zM101 442h1v1h-1zM106 442h2v1h-2zM195 442h3v1h-3zM374 442h1v2h-1zM378 442h2v1h-2zM435 442h1v5h-1zM608 442h1v8h-1zM762 442h1v2h-1zM100 443h1v1h-1zM108 443h1v1h-1zM111 443h1v3h-1zM158 443h1v1h-1zM198 443h2v1h-2zM325 443h1v6h-1zM379 443h1v1h-1zM434 443h1v1h-1zM463 443h1v1h-1zM515 443h1v3h-1zM519 443h1v3h-1zM528 443h1v3h-1zM632 443h1v3h-1zM638 443h1v3h-1zM99 444h1v1h-1zM109 444h2v1h-2zM156 444h2v1h-2zM300 444h1v3h-1zM373 444h1v3h-1zM380 444h1v2h-1zM427 444h1v1h-1zM433 444h1v2h-1zM462 444h1v2h-1zM556 444h1v6h-1zM761 444h1v2h-1zM50 445h1v4h-1zM98 445h1v1h-1zM155 445h1v1h-1zM363 445h1v2h-1zM426 445h1v2h-1zM428 445h1v1h-1zM516 445h3v1h-3zM554 445h1v6h-1zM591 445h1v7h-1zM737 445h1v4h-1zM97 446h1v1h-1zM154 446h1v2h-1zM364 446h1v1h-1zM381 446h1v2h-1zM429 446h2v1h-2zM432 446h1v1h-1zM461 446h1v2h-1zM529 446h1v2h-1zM633 446h1v1h-1zM637 446h1v1h-1zM707 446h1v6h-1zM713 446h1v10h-1zM760 446h1v2h-1zM96 447h1v1h-1zM299 447h1v3h-1zM362 447h1v2h-1zM365 447h1v1h-1zM372 447h1v2h-1zM425 447h1v1h-1zM431 447h1v1h-1zM436 447h1v11h-1zM539 447h1v5h-1zM634 447h1v3h-1zM636 447h1v3h-1zM95 448h1v1h-1zM129 448h1v14h-1zM153 448h1v2h-1zM366 448h1v1h-1zM382 448h1v2h-1zM424 448h1v2h-1zM460 448h1v2h-1zM530 448h1v3h-1zM759 448h1v3h-1zM51 449h1v4h-1zM75 449h1v1h-1zM94 449h1v1h-1zM326 449h1v7h-1zM361 449h1v2h-1zM367 449h2v1h-2zM371 449h1v2h-1zM387 449h9v1h-9zM738 449h1v4h-1zM74 450h1v3h-1zM76 450h1v2h-1zM93 450h1v1h-1zM152 450h1v2h-1zM267 450h3v1h-3zM298 450h1v3h-1zM369 450h2v1h-2zM383 450h4v1h-4zM395 450h1v1h-1zM422 450h2v1h-2zM459 450h1v1h-1zM555 450h1v4h-1zM603 450h1v4h-1zM607 450h1v5h-1zM635 450h1v1h-1zM92 451h1v1h-1zM238 451h1v23h-1zM266 451h1v1h-1zM270 451h2v1h-2zM360 451h1v2h-1zM383 451h1v1h-1zM396 451h1v2h-1zM421 451h1v1h-1zM458 451h1v3h-1zM531 451h1v2h-1zM604 451h1v1h-1zM758 451h1v5h-1zM77 452h1v2h-1zM91 452h1v1h-1zM151 452h1v1h-1zM265 452h1v1h-1zM272 452h1v2h-1zM291 452h1v1h-1zM419 452h2v1h-2zM532 452h2v1h-2zM536 452h3v1h-3zM592 452h1v9h-1zM605 452h1v1h-1zM708 452h1v6h-1zM52 453h1v4h-1zM73 453h1v1h-1zM90 453h1v2h-1zM150 453h1v1h-1zM264 453h1v1h-1zM290 453h1v1h-1zM292 453h1v2h-1zM297 453h1v2h-1zM359 453h1v3h-1zM397 453h1v2h-1zM418 453h1v3h-1zM534 453h2v1h-2zM606 453h1v1h-1zM739 453h1v5h-1zM72 454h1v3h-1zM78 454h1v2h-1zM148 454h2v1h-2zM263 454h1v2h-1zM273 454h1v1h-1zM289 454h1v2h-1zM343 454h1v2h-1zM457 454h1v1h-1zM602 454h1v7h-1zM89 455h1v2h-1zM147 455h1v1h-1zM274 455h1v2h-1zM293 455h1v2h-1zM296 455h1v3h-1zM342 455h1v1h-1zM398 455h1v2h-1zM456 455h1v3h-1zM79 456h1v1h-1zM146 456h1v2h-1zM262 456h1v2h-1zM288 456h1v1h-1zM327 456h1v4h-1zM341 456h1v2h-1zM344 456h1v3h-1zM358 456h1v4h-1zM417 456h1v1h-1zM712 456h1v11h-1zM757 456h1v3h-1zM53 457h1v4h-1zM71 457h1v1h-1zM80 457h1v2h-1zM88 457h1v2h-1zM275 457h1v1h-1zM287 457h1v1h-1zM294 457h1v2h-1zM399 457h1v4h-1zM411 457h1v2h-1zM416 457h1v3h-1zM70 458h1v2h-1zM145 458h1v2h-1zM261 458h1v2h-1zM276 458h2v1h-2zM286 458h1v1h-1zM295 458h1v2h-1zM340 458h1v1h-1zM412 458h2v1h-2zM437 458h1v9h-1zM455 458h1v3h-1zM709 458h1v6h-1zM740 458h1v5h-1zM59 459h1v1h-1zM81 459h1v2h-1zM87 459h1v1h-1zM278 459h1v1h-1zM285 459h1v2h-1zM328 459h4v1h-4zM339 459h1v1h-1zM345 459h1v3h-1zM410 459h1v2h-1zM414 459h1v1h-1zM756 459h1v5h-1zM58 460h1v2h-1zM60 460h1v1h-1zM69 460h1v2h-1zM86 460h1v1h-1zM144 460h1v2h-1zM260 460h1v2h-1zM279 460h2v1h-2zM332 460h1v1h-1zM338 460h1v1h-1zM357 460h1v3h-1zM415 460h1v1h-1zM54 461h1v4h-1zM61 461h1v2h-1zM82 461h1v2h-1zM85 461h1v1h-1zM281 461h1v1h-1zM284 461h1v1h-1zM333 461h1v1h-1zM337 461h1v1h-1zM400 461h1v5h-1zM409 461h1v3h-1zM454 461h1v4h-1zM593 461h1v9h-1zM601 461h1v8h-1zM57 462h1v2h-1zM68 462h1v2h-1zM84 462h1v1h-1zM130 462h1v14h-1zM143 462h1v2h-1zM259 462h1v2h-1zM282 462h2v1h-2zM334 462h1v1h-1zM336 462h1v1h-1zM346 462h1v3h-1zM62 463h1v1h-1zM83 463h1v1h-1zM335 463h1v1h-1zM356 463h1v4h-1zM741 463h1v5h-1zM56 464h1v2h-1zM63 464h5v1h-5zM142 464h1v3h-1zM256 464h3v1h-3zM408 464h1v2h-1zM710 464h1v6h-1zM755 464h1v2h-1zM55 465h1v2h-1zM254 465h2v1h-2zM347 465h1v2h-1zM453 465h1v5h-1zM251 466h3v1h-3zM401 466h1v6h-1zM407 466h1v3h-1zM754 466h1v1h-1zM141 467h1v2h-1zM250 467h1v1h-1zM348 467h1v1h-1zM355 467h1v2h-1zM438 467h1v11h-1zM711 467h1v6h-1zM753 467h1v1h-1zM248 468h2v1h-2zM349 468h1v1h-1zM354 468h1v1h-1zM742 468h1v5h-1zM752 468h1v1h-1zM140 469h1v3h-1zM247 469h1v2h-1zM350 469h1v1h-1zM353 469h1v1h-1zM406 469h1v3h-1zM600 469h1v7h-1zM747 469h5v1h-5zM351 470h2v1h-2zM452 470h1v4h-1zM594 470h1v9h-1zM746 470h1v2h-1zM246 471h1v5h-1zM139 472h1v3h-1zM402 472h1v5h-1zM405 472h1v3h-1zM745 472h1v1h-1zM743 473h2v1h-2zM239 474h1v11h-1zM451 474h1v4h-1zM743 474h2v1h-2zM138 475h1v2h-1zM404 475h1v3h-1zM743 475h1v1h-1zM131 476h1v8h-1zM245 476h1v3h-1zM599 476h1v4h-1zM137 477h1v2h-1zM403 477h1v3h-1zM439 478h1v5h-1zM450 478h1v3h-1zM136 479h1v2h-1zM244 479h1v5h-1zM595 479h1v5h-1zM598 480h1v1h-1zM135 481h1v2h-1zM449 481h1v2h-1zM597 481h1v1h-1zM133 482h2v1h-2zM596 482h1v1h-1zM132 483h1v1h-1zM440 483h1v1h-1zM448 483h1v3h-1zM240 484h2v1h-2zM243 484h1v2h-1zM441 484h1v1h-1zM242 485h1v1h-1zM442 485h1v1h-1zM443 486h3v1h-3zM447 486h1v2h-1zM446 487h1v1h-1z"/>
<g fill="#000">
<rect x="2" y="2" width="997" height="1"/><rect x="2" y="385" width="997" height="1"/>
<rect x="2" y="2" width="1" height="384"/><rect x="998" y="2" width="1" height="384"/>
<rect x="2" y="387" width="997" height="1"/><rect x="2" y="492" width="997" height="1"/>
<rect x="2" y="387" width="1" height="106"/><rect x="998" y="387" width="1" height="106"/>
<rect x="999" y="19" width="2" height="1"/>
<rect x="999" y="52" width="2" height="1"/>
<rect x="999" y="85" width="2" height="1"/>
<rect x="999" y="118" width="2" height="1"/>
<rect x="999" y="151" width="2" height="1"/>
<rect x="999" y="184" width="2" height="1"/>
<rect x="999" y="217" width="2" height="1"/>
<rect x="999" y="250" width="2" height="1"/>
<rect x="999" y="283" width="2" height="1"/>
<rect x="999" y="316" width="2" height="1"/>
<rect x="999" y="349" width="2" height="1"/>
<rect x="999" y="382" width="2" height="1"/>
<rect x="999" y="388" width="1" height="1"/><rect x="999" y="431" width="1" height="1"/><rect x="999" y="491" width="1" height="1"/>
<rect x="3" y="493" width="1" height="3"/>
<rect x="67" y="493" width="1" height="3"/>
<rect x="131" y="493" width="1" height="3"/>
<rect x="195" y="493" width="1" height="3"/>
<rect x="259" y="493" width="1" height="3"/>
<rect x="323" y="493" width="1" height="3"/>
<rect x="387" y="493" width="1" height="3"/>
<rect x="451" y="493" width="1" height="3"/>
<rect x="515" y="493" width="1" height="3"/>
<rect x="579" y="493" width="1" height="3"/>
<rect x="643" y="493" width="1" height="3"/>
<rect x="707" y="493" width="1" height="3"/>
<rect x="771" y="493" width="1" height="3"/>
<rect x="1000" y="262" width="41" height="11"/>
<path d="M6 9h7v1h-7zM7 10h5v1h-5zM8 11h3v1h-3zM9 12h1v1h-1z"/>
</g>
</g>
<text x="17.5" y="14" textLength="65.3" lengthAdjust="spacingAndGlyphs">XAUUSD,Daily</text>
<text x="87.7" y="14" textLength="141.1" lengthAdjust="spacingAndGlyphs">1227.46 1228.63 1220.42 1223.03</text>
<text x="7.2" y="400" textLength="70.3" lengthAdjust="spacingAndGlyphs">CCI(14) 62.2875</text>
<text x="1003.8" y="23" textLength="34.0" lengthAdjust="spacingAndGlyphs">1366.30</text>
<text x="1003.8" y="56" textLength="34.0" lengthAdjust="spacingAndGlyphs">1347.60</text>
<text x="1003.8" y="89" textLength="34.0" lengthAdjust="spacingAndGlyphs">1328.35</text>
<text x="1003.8" y="122" textLength="34.0" lengthAdjust="spacingAndGlyphs">1309.10</text>
<text x="1003.8" y="155" textLength="34.0" lengthAdjust="spacingAndGlyphs">1290.40</text>
<text x="1003.8" y="188" textLength="34.0" lengthAdjust="spacingAndGlyphs">1271.15</text>
<text x="1003.8" y="221" textLength="34.0" lengthAdjust="spacingAndGlyphs">1251.90</text>
<text x="1003.8" y="254" textLength="34.0" lengthAdjust="spacingAndGlyphs">1232.65</text>
<text x="1003.8" y="287" textLength="34.0" lengthAdjust="spacingAndGlyphs">1213.95</text>
<text x="1003.8" y="320" textLength="33.3" lengthAdjust="spacingAndGlyphs">1194.70</text>
<text x="1003.8" y="353" textLength="33.3" lengthAdjust="spacingAndGlyphs">1175.45</text>
<text x="1003.8" y="386" textLength="33.3" lengthAdjust="spacingAndGlyphs">1156.75</text>
<text x="1003.8" y="271" textLength="34.0" lengthAdjust="spacingAndGlyphs" style="fill:#fff;stroke:#fff">1223.03</text>
<text x="1001.5" y="398" textLength="39.2" lengthAdjust="spacingAndGlyphs">196.3472</text>
<text x="1001.5" y="414" textLength="15.7" lengthAdjust="spacingAndGlyphs">100</text>
<text x="1001.5" y="435" textLength="18.3" lengthAdjust="spacingAndGlyphs">0.00</text>
<text x="1000.8" y="457" textLength="18.8" lengthAdjust="spacingAndGlyphs">-100</text>
<text x="1002.0" y="489" textLength="42.4" lengthAdjust="spacingAndGlyphs">-274.6174</text>
<text x="1.8" y="505" textLength="46.2" lengthAdjust="spacingAndGlyphs">8 Apr 2018</text>
<text x="65.8" y="505" textLength="51.5" lengthAdjust="spacingAndGlyphs">26 Apr 2018</text>
<text x="129.8" y="505" textLength="55.2" lengthAdjust="spacingAndGlyphs">15 May 2018</text>
<text x="193.8" y="505" textLength="45.0" lengthAdjust="spacingAndGlyphs">3 Jun 2018</text>
<text x="257.8" y="505" textLength="50.1" lengthAdjust="spacingAndGlyphs">21 Jun 2018</text>
<text x="321.8" y="505" textLength="47.0" lengthAdjust="spacingAndGlyphs">10 Jul 2018</text>
<text x="385.8" y="505" textLength="47.0" lengthAdjust="spacingAndGlyphs">29 Jul 2018</text>
<text x="449.8" y="505" textLength="53.6" lengthAdjust="spacingAndGlyphs">16 Aug 2018</text>
<text x="513.8" y="505" textLength="47.1" lengthAdjust="spacingAndGlyphs">4 Sep 2018</text>
<text x="577.8" y="505" textLength="52.2" lengthAdjust="spacingAndGlyphs">23 Sep 2018</text>
<text x="641.8" y="505" textLength="51.3" lengthAdjust="spacingAndGlyphs">11 Oct 2018</text>
<text x="705.8" y="505" textLength="52.0" lengthAdjust="spacingAndGlyphs">30 Oct 2018</text>
<text x="769.8" y="505" textLength="54.2" lengthAdjust="spacingAndGlyphs">18 Nov 2018</text>
<rect x="516" y="175" width="133" height="40" fill="#041329" shape-rendering="crispEdges"/>
<text transform="scale(0.90,1)" x="576.9 590.2 600.2 612.2 626.7 641.1 652.2 665.9 673.1 678.2 690.7 706.2" y="203" style="font-size:23px;font-weight:bold;font-style:italic;fill:#d6d9dd;stroke:none">BayaNaat.net</text>
<g fill="#d6d9dd" stroke="none">
<path d="M566.6 201.5L568 201.8L565.6 209.2L567 209.5L564.4 213.2L563.3 208.7L564.6 209z"/>
<path d="M575 190L576.4 190.2L578 182.3L579.6 183L577.8 177.2L574.8 182L576.5 182.2z"/>
</g>
<g shape-rendering="crispEdges">
<path fill="#041329" d="M597.6 180h3.4v24h-3.4zM604 180h1.6v24h-1.6zM632.5 180h5.2v24h-5.2zM640.5 180h5.5v24h-5.5z" shape-rendering="auto"/>
<rect x="601.2" y="182" width="2.6" height="21" fill="#d6d9dd" shape-rendering="auto"/>
<rect x="599" y="184" width="9" height="7" fill="#9aa0a8"/><rect x="599" y="184" width="8" height="6" fill="#101a6e"/>
<rect x="637.9" y="182" width="2.4" height="21" fill="#d6d9dd" shape-rendering="auto"/>
<rect x="634" y="195" width="9" height="2" fill="#8a8c8e"/><rect x="634" y="197" width="9" height="2" fill="#1c1c1e"/>
</g>
</svg></body></html>
